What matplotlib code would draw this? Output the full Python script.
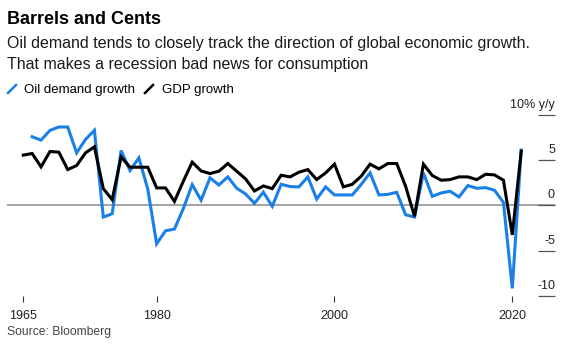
import matplotlib
matplotlib.use("Agg")
import matplotlib.pyplot as plt
from matplotlib.lines import Line2D
from matplotlib.transforms import offset_copy, blended_transform_factory

plt.rcParams['font.family'] = ['Liberation Sans', 'DejaVu Sans']

# data (% y/y)
gdp_years = list(range(1965, 2022))
gdp_growth = [5.56, 5.74, 4.26, 5.96, 5.89, 3.96, 4.41, 5.81, 6.48, 1.85,
              0.63, 5.37, 4.22, 4.22, 4.22, 1.93, 1.93, 0.44, 2.67, 4.78,
              3.81, 3.52, 3.78, 4.63, 3.78, 2.93, 1.59, 2.15, 1.85, 3.33,
              3.15, 3.67, 3.96, 2.85, 3.59, 4.56, 2.04, 2.33, 3.22, 4.56,
              4.04, 4.63, 4.63, 2.11, -1.22, 4.56, 3.30, 2.78, 2.85, 3.15,
              3.15, 2.85, 3.44, 3.37, 2.78, -3.26, 6.00]
oil_years = list(range(1966, 2022))
oil_growth = [7.59, 7.22, 8.30, 8.67, 8.67, 5.81, 7.30, 8.30, -1.30,
              -0.93, 6.07, 3.85, 5.26, 1.81, -4.26, -2.81, -2.63, -0.35, 2.30,
              0.56, 3.05, 2.25, 3.15, 1.90, 1.26, 0.22, 1.46, -0.11, 2.33,
              2.08, 2.04, 3.15, 0.70, 2.04, 1.15, 1.15, 1.15, 2.30, 3.59,
              1.15, 1.22, 1.44, -1.04, -1.30, 3.59, 1.00, 1.37, 1.56, 0.93,
              2.19, 1.89, 1.96, 1.67, 0.33, -9.19, 6.11]
x_ticks = [1965, 1980, 2000, 2020]
y_ticks = [10, 5, 0, -5, -10]
y_labels = ['10% y/y', '5', '0', '-5', '-10']

blue = '#1a80e8'
W, H = 565, 350

fig = plt.figure(figsize=(W / 100, H / 100), dpi=100)
ax = fig.add_axes([7 / W, 1 - 295.7 / H, 548 / W, 180.7 / H])

ax.axhline(0, color='#8a8a8a', lw=1.1, zorder=1)
ax.plot(oil_years, oil_growth, color=blue, lw=2.2, zorder=2,
        solid_joinstyle='miter')
ax.plot(gdp_years, gdp_growth, color='black', lw=2.2, zorder=3,
        solid_joinstyle='miter')

ax.set_xlim(1963.17, 2024.8)
ax.set_ylim(-10, 10)
for s in ax.spines.values():
    s.set_visible(False)

ax.set_xticks(x_ticks)
ax.set_xticklabels([str(t) for t in x_ticks])
ax.tick_params(axis='x', direction='out', length=4, width=0.8,
               color='#333333', labelsize=9, pad=6, labelcolor='#222222')

ax.set_yticks(y_ticks)
ax.tick_params(axis='y', direction='in', length=12, width=0.9,
               color='#555555', left=False, right=True,
               labelleft=False, labelright=False)
trans = offset_copy(blended_transform_factory(ax.transAxes, ax.transData),
                    fig=fig, x=0, y=5, units='points')
for v, lab in zip(y_ticks, y_labels):
    ax.text(1.0, v, lab, transform=trans, ha='right', va='baseline',
            fontsize=9, color='#222222')

# header
fig.text(7 / W, 1 - 24.5 / H, 'Barrels and Cents', fontsize=13,
         fontweight='bold', va='baseline', ha='left')
fig.text(7 / W, 1 - 48 / H,
         'Oil demand tends to closely track the direction of global economic growth.',
         fontsize=11.5, va='baseline', ha='left', color='#1a1a1a')
fig.text(7 / W, 1 - 68.6 / H, 'That makes a recession bad news for consumption',
         fontsize=11.5, va='baseline', ha='left', color='#1a1a1a')

# legend
fig.add_artist(Line2D([8 / W, 16 / W], [1 - 93 / H, 1 - 85 / H],
                      transform=fig.transFigure, color=blue, lw=1.8))
fig.text(24 / W, 1 - 93 / H, 'Oil demand growth', fontsize=9.5,
         va='baseline', ha='left')
fig.add_artist(Line2D([145 / W, 153 / W], [1 - 93 / H, 1 - 85 / H],
                      transform=fig.transFigure, color='black', lw=1.8))
fig.text(161.5 / W, 1 - 93 / H, 'GDP growth', fontsize=9.5,
         va='baseline', ha='left')

fig.text(7 / W, 1 - 335 / H, 'Source: Bloomberg', fontsize=8.7,
         va='baseline', ha='left', color='#444444')

fig.savefig('out.png', dpi=100)
